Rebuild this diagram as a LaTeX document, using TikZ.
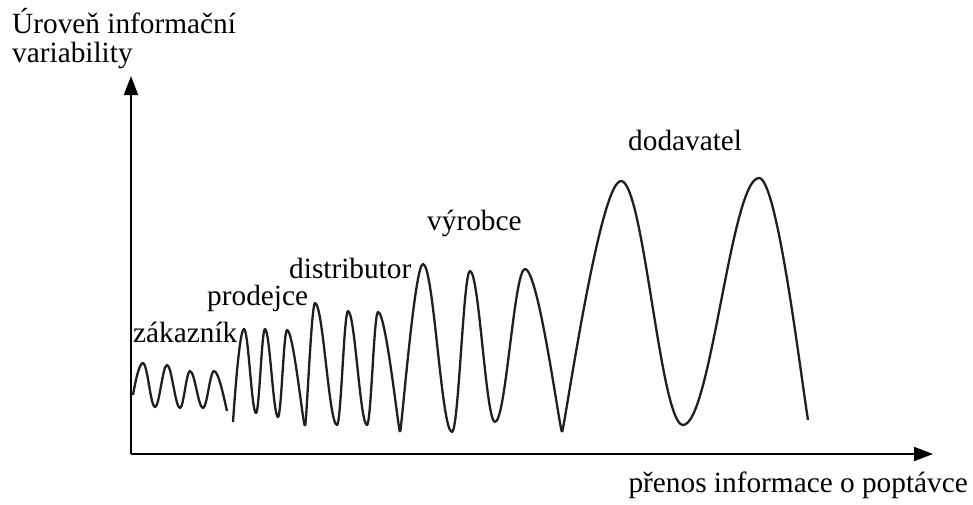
\documentclass[tikz,border=0pt]{standalone}
\usepackage{fontspec}
\setmainfont{Liberation Serif}
\usetikzlibrary{arrows.meta}
\begin{document}
\begin{tikzpicture}[x=1pt,y=-1pt,
  axisline/.style={line width=1.8pt,-{Triangle[length=19pt,width=14pt]}},
  wave/.style={line width=2.3pt,color=black!88,line join=round},
  lbl/.style={anchor=base west,inner sep=0pt,font=\fontsize{29.3}{31}\selectfont}]
\useasboundingbox (0,0) rectangle (973,504);
% axes
\coordinate (O) at (131,454);
\coordinate (ytip) at (131,76);
\coordinate (xtip) at (933,454);
\draw[axisline] (O) -- (ytip);
\draw[axisline] (O) -- (xtip);
% labels
\node[lbl] (ylab1) at (12,33) {Úroveň informační};
\node[lbl] (ylab2) at (12,62) {variability};
\node[lbl,anchor=base east] (xlab) at (968,492) {přenos informace o poptávce};
\node[lbl] (zak) at (133,342) {zákazník};
\node[lbl] (pro) at (207,305) {prodejce};
\node[lbl] (dis) at (289,278) {distributor};
\node[lbl] (vyr) at (427,230) {výrobce};
\node[lbl] (dod) at (628,150) {dodavatel};
% group 1 (zakaznik)
\draw[wave] (133,395) .. controls (136,378) and (139.5,363) .. (143,363)
  .. controls (147.4,363) and (150.6,407) .. (155,407)
  .. controls (159.4,407) and (162.6,365) .. (167,365)
  .. controls (171.7,365) and (175.3,408) .. (180,408)
  .. controls (183.6,408) and (186.4,371) .. (190,371)
  .. controls (194.7,371) and (198.3,408) .. (203,408)
  .. controls (207,408) and (210,371) .. (214,371)
  .. controls (218.5,371) and (224,398) .. (227,411);
% group 2 (prodejce)
\draw[wave] (233,422) .. controls (235.5,385) and (240,329) .. (244,329)
  .. controls (248.4,329) and (251.6,413) .. (256,413)
  .. controls (259.3,413) and (261.7,329) .. (265,329)
  .. controls (269.7,329) and (273.3,417) .. (278,417)
  .. controls (281.3,417) and (283.7,330) .. (287,330)
  .. controls (293.5,330) and (303,426) .. (305,426);
% group 3 (distributor)
\draw[wave] (305,426) .. controls (306.5,426) and (311.4,303) .. (315,303)
  .. controls (323,303) and (329,425) .. (337,425)
  .. controls (341,425) and (344,311) .. (348,311)
  .. controls (354.9,311) and (360.1,425) .. (367,425)
  .. controls (371,425) and (374,312) .. (378,312)
  .. controls (386,312) and (398.5,432) .. (400,432);
% group 4 (vyrobce)
\draw[wave] (400,432) .. controls (401.5,432) and (414.6,264) .. (423,264)
  .. controls (433.6,264) and (441.4,432) .. (452,432)
  .. controls (458.6,432) and (463.4,271) .. (470,271)
  .. controls (479.1,271) and (485.9,422) .. (495,422)
  .. controls (505.9,422) and (514.1,269) .. (525,269)
  .. controls (538.5,269) and (560,432) .. (562,432);
% group 5 (dodavatel)
\draw[wave] (562,432) .. controls (564,432) and (599.5,181) .. (621,181)
  .. controls (643.6,181) and (660.4,425) .. (683,425)
  .. controls (710.7,425) and (731.3,178) .. (759,178)
  .. controls (777,178) and (800,370) .. (808,420);
\end{tikzpicture}
\end{document}
